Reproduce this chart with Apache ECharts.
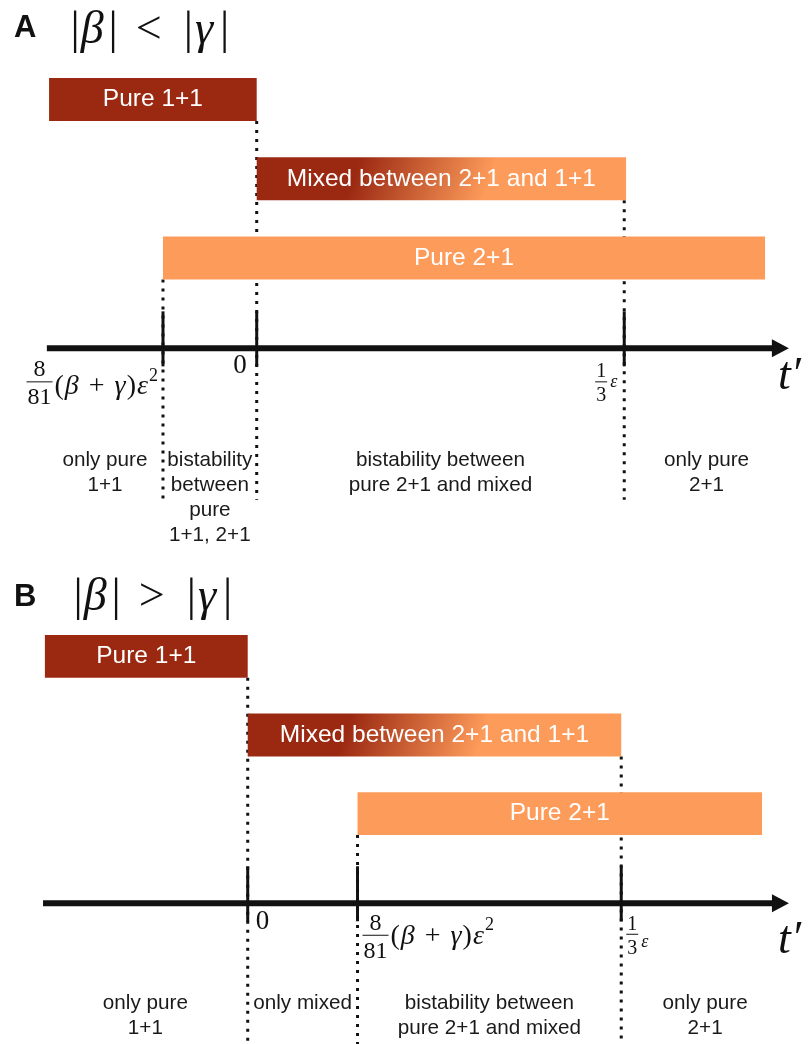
<!DOCTYPE html>
<html><head><meta charset="utf-8">
<script src="https://cdn.jsdelivr.net/npm/echarts@6/dist/echarts.min.js"></script>
<style>html,body{margin:0;padding:0;background:#fff}#c{width:808px;height:1044px}</style>
</head><body><div id="c"></div>
<script>
// ================= DATA =================
// t' measured in units of eps/3 : 0 -> t'=0, 1 -> t'=eps/3
const stateNames = ['Pure 1+1', 'Mixed between 2+1 and 1+1', 'Pure 2+1'];
const panelLetters = ['A', 'B'];
const panelRelations = ['<', '>'];
// panel A : |beta| < |gamma|
const barStartA = [-0.565, 0, -0.255];
const barEndA = [0, 1.005, 1.383];
const tickValuesA = [-0.255, 0, 1];
const tickKindsA = ['crit', 'zero', 'third'];
const tickBarA = [2, 0, 1];           // bar whose edge the tick marks
const axisRangeA = [-0.571, 1.448];
const regionLabelsA = ['only pure\n1+1', 'bistability\nbetween\npure\n1+1, 2+1', 'bistability between\npure 2+1 and mixed', 'only pure\n2+1'];
// panel B : |beta| > |gamma|
const barStartB = [-0.543, 0, 0.294];
const barEndB = [0, 1.0, 1.377];
const tickValuesB = [0, 0.294, 1];
const tickKindsB = ['zero', 'crit', 'third'];
const tickBarB = [0, 2, 1];
const axisRangeB = [-0.548, 1.449];
const regionLabelsB = ['only pure\n1+1', 'only mixed', 'bistability between\npure 2+1 and mixed', 'only pure\n2+1'];

// ================= STYLE / LAYOUT =================
const DARK = '#9b2912', LIGHT = '#fd9b5a', INK = '#111111';
const SANS = '"Liberation Sans", Arial, Helvetica, sans-serif';
const AXIS_ROW = 3.14, BAR_FRAC = 0.545;
const layout = [
  {gridTop: 20.25, rowPx: 79.25, left: 36.2, width: 772.8, yMax: 5.6, dotBottomRow: 5.05, regionDy: 99, tDy: 29,
   side: 'left', lab: {zero: {dx: -10, dy: 18}, crit: {dx: -5, dy: 33.5, rdy: 5}, third: {dx: -7, dy: 33.5, rdy: 0}},
   letterY: 29.5, titleY: 30.5},
  {gridTop: 577.75, rowPx: 78.75, left: 23.6, width: 785.4, yMax: 4.93, dotBottomRow: 4.93, regionDy: 87.5, tDy: 38,
   side: 'right', lab: {zero: {dx: 8, dy: 19}, crit: {dx: 5, dy: 32, rdy: 1}, third: {dx: 5, dy: 31, rdy: 8}},
   letterY: 598.5, titleY: 597.5}
];
const panels = [
  {start: barStartA, end: barEndA, ticks: tickValuesA, kinds: tickKindsA, tickBar: tickBarA, axis: axisRangeA, regions: regionLabelsA},
  {start: barStartB, end: barEndB, ticks: tickValuesB, kinds: tickKindsB, tickBar: tickBarB, axis: axisRangeB, regions: regionLabelsB}
];

const mctx = document.createElement('canvas').getContext('2d');
function tw(t, f) { mctx.font = f; return mctx.measureText(t).width; }
function serif(size, it) { return (it ? 'italic ' : '') + size + 'px "Liberation Serif", "Times New Roman", serif'; }
function txt(text, x, y, font, align, valign, fill) {
  return {type: 'text', silent: true, style: {text: text, x: x, y: y, font: font, fill: fill || INK,
    textAlign: align, textVerticalAlign: valign, align: align, verticalAlign: valign}};
}
// sequential math run; y = centre line
function mathRun(pieces, x0, y) {
  let x = x0; const ch = [];
  pieces.forEach(p => {
    x += p.pre || 0;
    const f = serif(p.size, p.it);
    ch.push(txt(p.t, x, y + (p.dy || 0), f, 'left', 'middle'));
    x += tw(p.t, f) + (p.post || 0);
  });
  return {children: ch, width: x - x0};
}
function fraction(num, den, size, x0, yb) {
  const f = serif(size, false);
  const w = Math.max(tw(num, f), tw(den, f)) + 2;
  return {width: w, children: [
    txt(num, x0 + w / 2, yb, f, 'center', 'bottom'),
    {type: 'line', silent: true, shape: {x1: x0, y1: yb, x2: x0 + w, y2: yb}, style: {stroke: INK, lineWidth: 1}},
    txt(den, x0 + w / 2, yb + 4, f, 'center', 'top')
  ]};
}
// build a tick label relative to (0, 0) = (left edge, reference y)
function buildLabel(kind, rdy) {
  if (kind === 'zero') return mathRun([{t: '0', size: 27}], 0, 0);
  if (kind === 'crit') {
    const fr = fraction('8', '81', 24, 0, 0);
    const r = mathRun([{t: '(', size: 28, pre: 2}, {t: 'β', size: 28, it: true, pre: 1},
      {t: '+', size: 28, pre: 10, post: 10}, {t: 'γ', size: 28, it: true}, {t: ')', size: 28, pre: 1},
      {t: 'ε', size: 28, it: true, pre: 1}, {t: '2', size: 18, dy: -11, pre: 1}], fr.width, rdy);
    return {children: fr.children.concat(r.children), width: fr.width + r.width};
  }
  const fr = fraction('1', '3', 20, 0, 0);
  const r = mathRun([{t: 'ε', size: 18, it: true, pre: 3}], fr.width, rdy);
  return {children: fr.children.concat(r.children), width: fr.width + r.width};
}

const chart = echarts.init(document.getElementById('c'));
const grids = [], xAxes = [], yAxes = [], series = [], graphics = [];

panels.forEach((P, p) => {
  const L = layout[p];
  grids.push({left: L.left, width: L.width, top: L.gridTop, height: (L.yMax + 1) * L.rowPx, containLabel: false});
  xAxes.push({type: 'value', gridIndex: p, min: -0.6, max: 1.5, show: false});
  yAxes.push({type: 'value', gridIndex: p, min: -1, max: L.yMax, inverse: true, show: false});

  // dotted boundaries + tick marks + tick labels
  series.push({
    type: 'custom', xAxisIndex: p, yAxisIndex: p, z: 1, silent: true,
    data: P.ticks.map((t, i) => [t, P.tickBar[i]]),
    renderItem: (params, api) => {
      const v = api.value(0), row = api.value(1);
      const h = api.size([0, 1])[1] * BAR_FRAC;
      const pt = api.coord([v, row]);
      const x = pt[0];
      const top = pt[1] + h / 2;
      const axisY = api.coord([v, AXIS_ROW])[1];
      const bottom = api.coord([v, L.dotBottomRow])[1];
      const kind = P.kinds[params.dataIndex];
      const cfg = L.lab[kind];
      const lab = buildLabel(kind, cfg.rdy || 0);
      const gx = L.side === 'left' ? x + cfg.dx - lab.width : x + cfg.dx;
      return {type: 'group', children: [
        {type: 'line', shape: {x1: x, y1: top, x2: x, y2: bottom}, style: {stroke: INK, lineWidth: 3, lineDash: [3, 6]}},
        {type: 'line', shape: {x1: x, y1: axisY - 37, x2: x, y2: axisY + 18}, style: {stroke: INK, lineWidth: 3}},
        {type: 'group', x: gx, y: axisY + cfg.dy, children: lab.children}
      ]};
    }
  });

  // state bars
  series.push({
    type: 'custom', xAxisIndex: p, yAxisIndex: p, z: 3, silent: true,
    data: P.start.map((s, i) => [s, P.end[i], i]),
    renderItem: (params, api) => {
      const i = api.value(2);
      const a = api.coord([api.value(0), i]);
      const b = api.coord([api.value(1), i]);
      const h = api.size([0, 1])[1] * BAR_FRAC;
      const fill = i === 0 ? DARK : (i === 2 ? LIGHT : {
        type: 'linear', x: 0, y: 0, x2: 1, y2: 3,
        colorStops: [{offset: 0, color: DARK}, {offset: 0.25, color: DARK}, {offset: 0.58, color: LIGHT}, {offset: 1, color: LIGHT}]
      });
      return {type: 'group', children: [
        {type: 'rect', shape: {x: a[0], y: a[1] - h / 2, width: b[0] - a[0], height: h}, style: {fill: fill}},
        txt(stateNames[i], (a[0] + b[0]) / 2, a[1], '24.5px ' + SANS, 'center', 'middle', '#ffffff')
      ]};
    }
  });

  // t' axis with arrow
  series.push({
    type: 'custom', xAxisIndex: p, yAxisIndex: p, z: 4, silent: true,
    data: [[P.axis[0], P.axis[1]]],
    renderItem: (params, api) => {
      const a = api.coord([api.value(0), AXIS_ROW]);
      const b = api.coord([api.value(1), AXIS_ROW]);
      const y = a[1], xe = b[0];
      return {type: 'group', children: [
        {type: 'line', shape: {x1: a[0], y1: y, x2: xe - 12, y2: y}, style: {stroke: INK, lineWidth: 6}},
        {type: 'polygon', shape: {points: [[xe, y], [xe - 17, y - 9], [xe - 17, y + 9]]}, style: {fill: INK}},
        txt('t′', xe + 12, y + L.tDy, serif(46, true), 'right', 'middle')
      ]};
    }
  });

  // region descriptions, centred between boundaries
  const bounds = [P.axis[0]].concat(P.ticks, [P.axis[1]]);
  series.push({
    type: 'custom', xAxisIndex: p, yAxisIndex: p, z: 2, silent: true,
    data: P.regions.map((r, i) => [(bounds[i] + bounds[i + 1]) / 2]),
    renderItem: (params, api) => {
      const c = api.coord([api.value(0), AXIS_ROW]);
      const t = txt(P.regions[params.dataIndex], c[0], c[1] + L.regionDy, '20.7px ' + SANS, 'center', 'top', '#1a1a1a');
      t.style.lineHeight = 25;
      return t;
    }
  });

  // panel letter and condition title
  graphics.push({type: 'text', left: 14, top: L.letterY - 17, silent: true,
    style: {text: panelLetters[p], font: 'bold 31px ' + SANS, fill: INK}});
  const tr = mathRun([{t: '|', size: 46}, {t: 'β', size: 46, it: true, pre: 1, post: 5}, {t: '|', size: 46},
    {t: panelRelations[p], size: 46, pre: 18, post: 22}, {t: '|', size: 46}, {t: 'γ', size: 46, it: true, pre: 2, post: 7},
    {t: '|', size: 46}], 0, 0);
  graphics.push({type: 'group', x: p === 0 ? 70.5 : 73.5, y: L.titleY, silent: true, children: tr.children});
});

chart.setOption({
  animation: false,
  backgroundColor: '#ffffff',
  grid: grids, xAxis: xAxes, yAxis: yAxes, series: series, graphic: graphics
});
</script></body></html>
